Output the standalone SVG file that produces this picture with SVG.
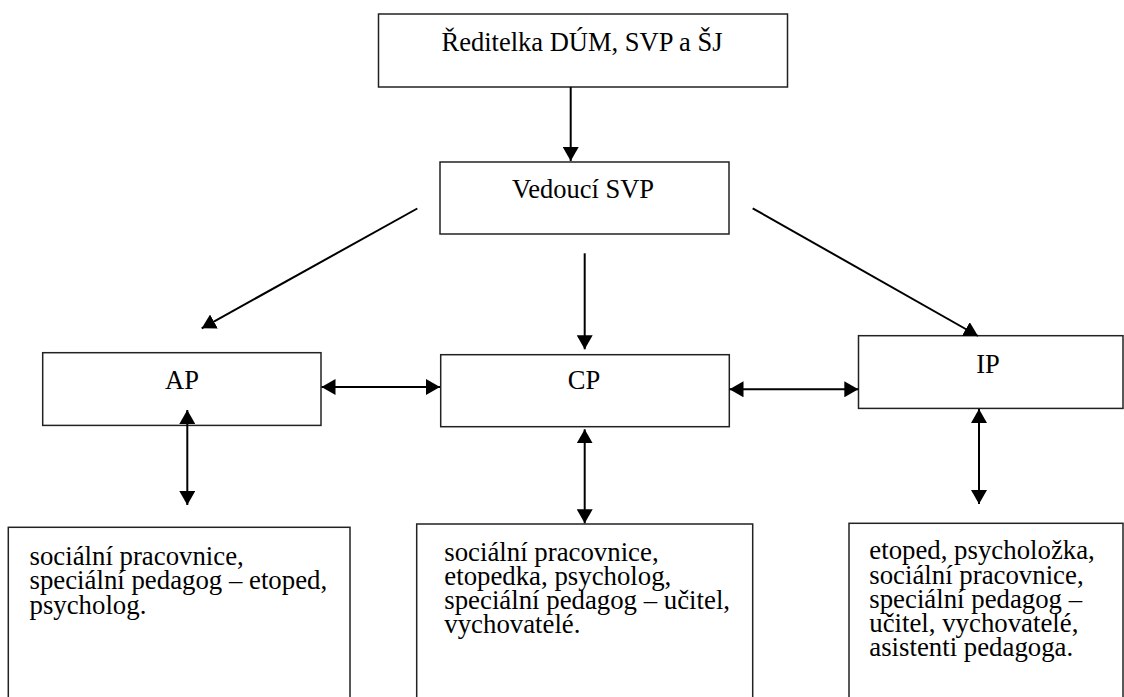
<svg xmlns="http://www.w3.org/2000/svg" width="1124" height="697" viewBox="0 0 1124 697">
  <style>
    .box { fill: #ffffff; stroke: #222222; stroke-width: 1.5; }
    .lbl { font-family: 'Liberation Serif', 'Times New Roman', serif; font-size: 26.5px; fill: #000000; }
    .body { font-size: 26.8px; }
    .mid { text-anchor: middle; }
    .conn { stroke: #000000; stroke-width: 2; fill: none; }
    .one { marker-end: url(#ah); }
    .two { marker-start: url(#ah); marker-end: url(#ah); }
  </style>
  <defs>
    <marker id="ah" markerUnits="userSpaceOnUse" markerWidth="15" markerHeight="16" refX="14" refY="8" orient="auto-start-reverse" viewBox="0 0 15 16">
      <path d="M0,0 L14,8 L0,16 Z" fill="#000000"/>
    </marker>
  </defs>
  <rect width="1124" height="697" fill="#ffffff"/>

  <g id="n-reditelka">
    <rect class="box" x="378.5" y="14" width="409" height="73"/>
    <text class="lbl" x="441.5" y="50.5">Ředitelka DÚM, SVP a ŠJ</text>
  </g>
  <g id="n-vedouci">
    <rect class="box" x="440" y="162" width="289" height="72"/>
    <text class="lbl" x="512" y="198.3">Vedoucí SVP</text>
  </g>
  <g id="n-ap">
    <rect class="box" x="42.7" y="352.7" width="278.3" height="72.7"/>
    <text class="lbl mid" x="182" y="389">AP</text>
  </g>
  <g id="n-cp">
    <rect class="box" x="440.7" y="354.7" width="288.6" height="72"/>
    <text class="lbl mid" x="584" y="389.3">CP</text>
  </g>
  <g id="n-ip">
    <rect class="box" x="858.5" y="335.7" width="264.5" height="72.7"/>
    <text class="lbl mid" x="988" y="373.3">IP</text>
  </g>
  <g id="n-ap-staff">
    <rect class="box" x="8.3" y="527.3" width="341.7" height="200"/>
    <text class="lbl body" x="29.5" y="564.5">sociální pracovnice,</text>
    <text class="lbl body" x="29.5" y="589">speciální pedagog – etoped,</text>
    <text class="lbl body" x="29.5" y="613.5">psycholog.</text>
  </g>
  <g id="n-cp-staff">
    <rect class="box" x="416.7" y="524" width="336" height="200"/>
    <text class="lbl body" x="444.3" y="561">sociální pracovnice,</text>
    <text class="lbl body" x="444.3" y="585">etopedka, psycholog,</text>
    <text class="lbl body" x="444.3" y="609">speciální pedagog – učitel,</text>
    <text class="lbl body" x="444.3" y="633">vychovatelé.</text>
  </g>
  <g id="n-ip-staff">
    <rect class="box" x="849" y="523.3" width="274" height="200"/>
    <text class="lbl body" x="869.3" y="559.3">etoped, psycholožka,</text>
    <text class="lbl body" x="869.3" y="583.5">sociální pracovnice,</text>
    <text class="lbl body" x="869.3" y="607.7">speciální pedagog –</text>
    <text class="lbl body" x="869.3" y="631.9">učitel, vychovatelé,</text>
    <text class="lbl body" x="869.3" y="656">asistenti pedagoga.</text>
  </g>

  <g id="connectors">
    <line class="conn one" x1="570.7" y1="87" x2="570.7" y2="161"/>
    <line class="conn one" x1="417.3" y1="208.5" x2="201.7" y2="328.3"/>
    <line class="conn one" x1="584.7" y1="253.3" x2="584.7" y2="349.3"/>
    <line class="conn one" x1="752.7" y1="208.3" x2="978" y2="336"/>
    <line class="conn two" x1="321.5" y1="387" x2="440" y2="387"/>
    <line class="conn two" x1="729.5" y1="389.3" x2="858.3" y2="389.3"/>
    <line class="conn two" x1="187.3" y1="410" x2="187.3" y2="505"/>
    <line class="conn two" x1="584.7" y1="429.3" x2="584.7" y2="523.3"/>
    <line class="conn two" x1="979" y1="409" x2="979" y2="504"/>
  </g>
</svg>
